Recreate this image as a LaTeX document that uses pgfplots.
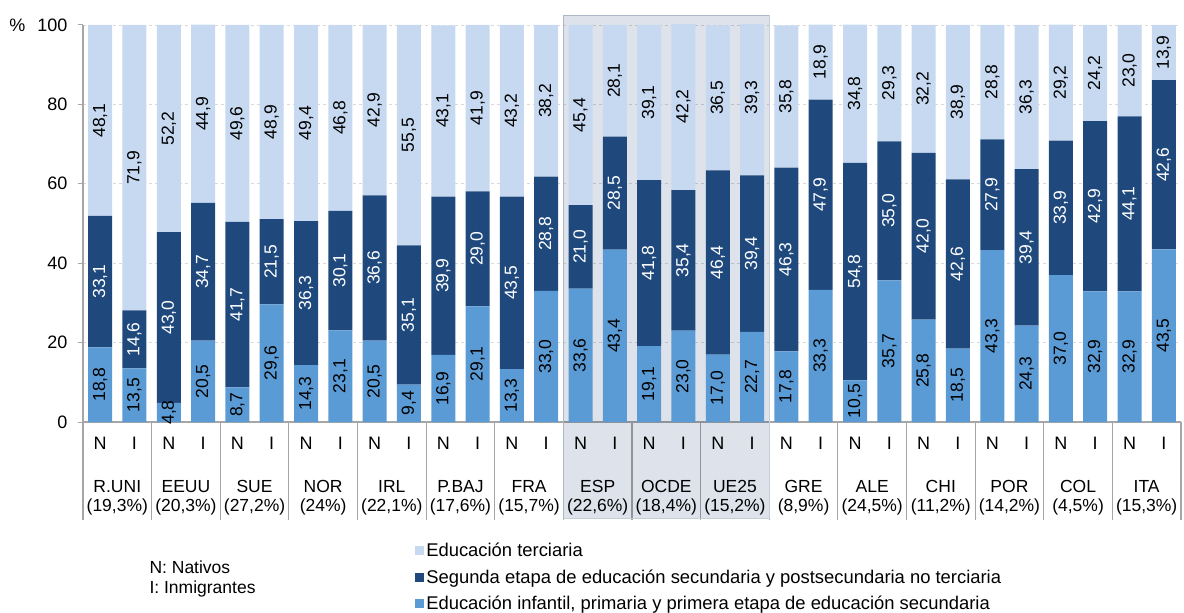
\documentclass[border=0pt]{standalone}
\usepackage{fontspec}
\setmainfont{Liberation Sans}
\usepackage{pgfplots}
\usepackage{pgfplotstable}
\pgfplotsset{compat=1.18}
\definecolor{pri}{HTML}{5B9BD5}
\definecolor{sec}{HTML}{1F497D}
\definecolor{ter}{HTML}{C6D9F1}
\definecolor{boxcol}{HTML}{DEE3EB}
\definecolor{boxborder}{HTML}{C8CED6}
\definecolor{axisgray}{HTML}{A6A6A6}
\definecolor{gridgray}{HTML}{D9D9D9}

\pgfplotstableread{
x a b c
0 18.8 33.1 48.1
1 13.5 14.6 71.9
2 4.8 43.0 52.2
3 20.5 34.7 44.9
4 8.7 41.7 49.6
5 29.6 21.5 48.9
6 14.3 36.3 49.4
7 23.1 30.1 46.8
8 20.5 36.6 42.9
9 9.4 35.1 55.5
10 16.9 39.9 43.1
11 29.1 29.0 41.9
12 13.3 43.5 43.2
13 33.0 28.8 38.2
14 33.6 21.0 45.4
15 43.4 28.5 28.1
16 19.1 41.8 39.1
17 23.0 35.4 42.2
18 17.0 46.4 36.5
19 22.7 39.4 39.3
20 17.8 46.3 35.8
21 33.3 47.9 18.9
22 10.5 54.8 34.8
23 35.7 35.0 29.3
24 25.8 42.0 32.2
25 18.5 42.6 38.9
26 43.3 27.9 28.8
27 24.3 39.4 36.3
28 37.0 33.9 29.2
29 32.9 42.9 24.2
30 32.9 44.1 23.0
31 43.5 42.6 13.9
}\datatable
\pgfplotstablecreatecol[expr={\thisrow{a}/2}]{ya}\datatable
\pgfplotstablecreatecol[expr={\thisrow{a}+\thisrow{b}/2}]{yb}\datatable
\pgfplotstablecreatecol[expr={\thisrow{a}+\thisrow{b}+\thisrow{c}/2}]{yc}\datatable

\begin{document}
\begin{tikzpicture}[font=\fontsize{18}{21}\selectfont]
\path[use as bounding box] (-83pt,-191pt) rectangle (1101pt,422pt);
\begin{axis}[
  at={(0,0)}, anchor=south west, scale only axis,
  width=1098pt, height=397pt,
  ybar stacked, bar width=0.7,
  xmin=-0.5, xmax=31.5, ymin=0, ymax=100,
  clip=true, clip mode=individual,
  axis x line*=bottom, axis y line*=left,
  axis line style={-, draw=axisgray, line width=1.2pt},
  tick align=outside,
  ytick={0,20,...,100},
  ymajorgrids, grid style={dashed, draw=gridgray, line width=0.8pt},
  xtick={0,...,31},
  xticklabels={N,I,N,I,N,I,N,I,N,I,N,I,N,I,N,I,N,I,N,I,N,I,N,I,N,I,N,I,N,I,N,I},
  major x tick style={draw=none},
  minor xtick={-0.5,1.5,...,31.5},
  minor tick length=98pt,
  minor x tick style={draw=axisgray, line width=1.2pt},
  major tick length=5pt,
  y tick style={draw=axisgray, line width=1pt},
  tick label style={font=\fontsize{18}{21}\selectfont},
  yticklabel style={xshift=-7pt},
  xticklabel style={yshift=-7pt},
  legend style={at={(axis description cs:0.302,-0.30)}, anchor=north west,
    draw=none, fill=none, font=\fontsize{18.4}{21}\selectfont, row sep=7.5pt, inner sep=0pt},
  legend cell align=left,
  reverse legend,
  legend image code/.code={\fill[#1] (0pt,-4.5pt) rectangle (9.5pt,4.5pt);},
  /pgf/number format/assume math mode=true,
]
\addplot[fill=pri, draw=none] table[x=x,y=a]{\datatable};
\addplot[fill=sec, draw=none] table[x=x,y=b]{\datatable};
\addplot[fill=ter, draw=none] table[x=x,y=c]{\datatable};
\legend{{Educación infantil, primaria y primera etapa de educación secundaria},
  {Segunda etapa de educación secundaria y postsecundaria no terciaria},
  {Educación terciaria}}
\fill[boxcol, blend mode=multiply] (axis cs:13.5,102.5) rectangle (axis cs:19.5,-24.3);
\draw[boxborder, line width=1pt] (axis cs:13.5,102.5) rectangle (axis cs:19.5,-24.3);
\node[anchor=east] at (rel axis cs:0,1) [xshift=-54pt] {\%};
\node[anchor=west, align=left, font=\fontsize{17.5}{20}\selectfont] at (rel axis cs:0,0) [xshift=63pt, yshift=-157pt] {N: Nativos\\I: Inmigrantes};
\end{axis}
\begin{axis}[
  at={(0,0)}, anchor=south west, scale only axis,
  width=1098pt, height=397pt,
  xmin=-0.5, xmax=31.5, ymin=0, ymax=100,
  clip=false,
  axis line style={draw=none},
  ytick=\empty,
  xtick={0.5,2.5,...,30.5},
  xticklabels={{R.UNI\\(19,3\%)},{EEUU\\(20,3\%)},{SUE\\(27,2\%)},{NOR\\(24\%)},{IRL\\(22,1\%)},{P.BAJ\\(17,6\%)},{FRA\\(15,7\%)},{ESP\\(22,6\%)},{OCDE\\(18,4\%)},{UE25\\(15,2\%)},{GRE\\(8,9\%)},{ALE\\(24,5\%)},{CHI\\(11,2\%)},{POR\\(14,2\%)},{COL\\(4,5\%)},{ITA\\(15,3\%)}},
  xtick style={draw=none},
  xticklabel style={align=center, anchor=north, yshift=-55pt, font=\fontsize{17.5}{18.5}\selectfont},
  nodes near coords,
  every node near coord/.append style={anchor=center, rotate=90, font=\fontsize{17.5}{20}\selectfont},
  /pgf/number format/.cd, use comma, fixed, fixed zerofill, precision=1, assume math mode=true,
]
\addplot[draw=none, mark=none, point meta=explicit, every node near coord/.append style={text=black}] table[x=x, y=ya, meta=a]{\datatable};
\addplot[draw=none, mark=none, point meta=explicit, every node near coord/.append style={text=white}] table[x=x, y=yb, meta=b]{\datatable};
\addplot[draw=none, mark=none, point meta=explicit, every node near coord/.append style={text=black}] table[x=x, y=yc, meta=c]{\datatable};
\end{axis}
\end{tikzpicture}
\end{document}
